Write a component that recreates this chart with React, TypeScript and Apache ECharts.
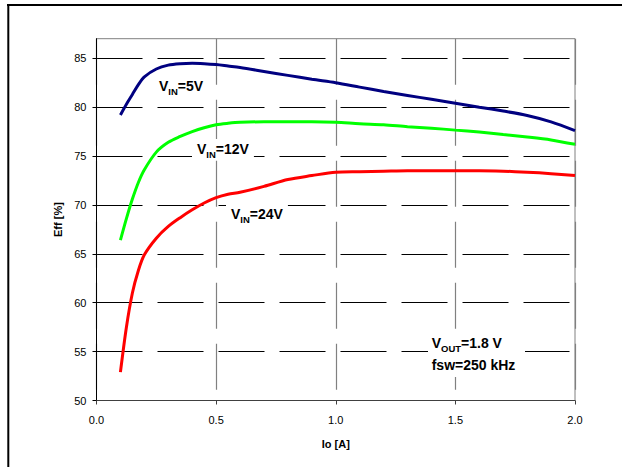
import React, { useEffect, useRef } from "react";
import * as echarts from "echarts";

const ioValues = [0.1, 0.125, 0.15, 0.175, 0.2, 0.25, 0.3, 0.35, 0.4, 0.45, 0.5, 0.55, 0.6, 0.7, 0.8, 0.9, 1.0, 1.1, 1.2, 1.3, 1.4, 1.5, 1.6, 1.7, 1.8, 1.9, 2.0];
const eff5V = [79.2, 80.3, 81.3, 82.3, 83.1, 83.9, 84.3, 84.45, 84.5, 84.45, 84.35, 84.2, 84.05, 83.65, 83.25, 82.85, 82.5, 82.05, 81.6, 81.2, 80.8, 80.4, 80.0, 79.6, 79.15, 78.5, 77.6];
const eff12V = [66.4, 68.6, 70.6, 72.3, 73.6, 75.4, 76.4, 77.0, 77.5, 77.9, 78.2, 78.35, 78.45, 78.5, 78.5, 78.5, 78.45, 78.3, 78.2, 78.0, 77.85, 77.65, 77.45, 77.2, 76.95, 76.65, 76.2];
const eff24V = [52.9, 57.5, 61.0, 63.3, 64.9, 66.6, 67.8, 68.7, 69.5, 70.2, 70.75, 71.1, 71.3, 71.9, 72.6, 73.0, 73.35, 73.4, 73.45, 73.5, 73.5, 73.5, 73.5, 73.45, 73.35, 73.2, 73.0];
const yTicks = [50, 55, 60, 65, 70, 75, 80, 85];
const xTicks = [0, 0.5, 1.0, 1.5, 2.0];
const seriesNames = ["VIN=5V", "VIN=12V", "VIN=24V"];

const FONT = "'Liberation Sans', Arial, sans-serif";

function pairs(ys: number[]) {
  return ioValues.map((x, i) => [x, ys[i]]);
}

const richStyles = {
  v: { fontSize: 14, fontWeight: "bold", fontFamily: FONT, fill: "#000", lineHeight: 16, verticalAlign: "middle" },
  s: { fontSize: 9.5, fontWeight: "bold", fontFamily: FONT, fill: "#000", lineHeight: 10, verticalAlign: "bottom", padding: [0, 0, -2, 0] },
};

function subLabel(main: string, sub: string, rest: string, x: number, y: number) {
  return {
    type: "text",
    x,
    y,
    z: 50,
    style: {
      text: `{v|${main}}{s|${sub}}{v|${rest}}`,
      textAlign: "left",
      textVerticalAlign: "middle",
      backgroundColor: "#ffffff",
      padding: [2, 5, 2, 5],
      rich: richStyles,
    },
  };
}

export default function App() {
  const ref = useRef<HTMLDivElement>(null);
  useEffect(() => {
    if (!ref.current) return;
    const chart = echarts.init(ref.current, null, { renderer: "svg" });
    const dash = [46, 15];
    const line = (name: string, ys: number[], color: string) => ({
      name,
      type: "line",
      data: pairs(ys),
      showSymbol: false,
      smooth: 0.3,
      lineStyle: { color, width: 3 },
      itemStyle: { color },
      z: 5,
    });
    chart.setOption({
      animation: false,
      backgroundColor: "#ffffff",
      grid: {
        left: 96.5,
        top: 38.7,
        right: 47,
        bottom: 66.5,
        show: true,
        borderColor: "#808080",
        borderWidth: 1,
        backgroundColor: "transparent",
      },
      xAxis: {
        type: "value",
        min: 0,
        max: 2,
        interval: 0.5,
        name: "Io [A]",
        nameLocation: "middle",
        nameGap: 38,
        nameTextStyle: { fontFamily: FONT, fontSize: 11, fontWeight: "bold", color: "#000" },
        axisLine: { show: true, lineStyle: { color: "#404040", width: 1 } },
        axisTick: { show: true, length: 4, inside: false, lineStyle: { color: "#404040" } },
        axisLabel: {
          fontFamily: FONT,
          fontSize: 11,
          color: "#000",
          margin: 14,
          formatter: (v: number) => v.toFixed(1),
          customValues: xTicks,
        },
        splitLine: { show: true, lineStyle: { color: "#808080", width: 1.2, type: dash } },
      },
      yAxis: {
        type: "value",
        min: 50,
        max: 87,
        interval: 5,
        name: "Eff [%]",
        nameLocation: "middle",
        nameGap: 33,
        nameTextStyle: { fontFamily: FONT, fontSize: 11, fontWeight: "bold", color: "#000" },
        axisLine: { show: true, lineStyle: { color: "#000", width: 1 } },
        axisTick: { show: true, length: 4, lineStyle: { color: "#000" }, customValues: yTicks },
        axisLabel: { fontFamily: FONT, fontSize: 11, color: "#000", margin: 10, customValues: yTicks },
        splitLine: { show: true, lineStyle: { color: "#000", width: 1, type: dash } },
      },
      series: [
        line(seriesNames[0], eff5V, "#000080"),
        line(seriesNames[1], eff12V, "#00ff00"),
        line(seriesNames[2], eff24V, "#ff0000"),
      ],
      graphic: [
        { type: "line", z: 60, shape: { x1: 7, y1: 5, x2: 622, y2: 5 }, style: { stroke: "#000", lineWidth: 2 } },
        { type: "line", z: 60, shape: { x1: 8.3, y1: 4, x2: 8.3, y2: 467 }, style: { stroke: "#000", lineWidth: 2 } },
        subLabel("V", "IN", "=5V", 154, 86),
        subLabel("V", "IN", "=12V", 192, 149),
        subLabel("V", "IN", "=24V", 226, 214),
        { type: "rect", z: 50, shape: { x: 428, y: 329, width: 97, height: 48 }, style: { fill: "#ffffff" } },
        {
          type: "text",
          z: 51,
          x: 431.7,
          y: 343,
          style: {
            text: "{v|V}{s|OUT}{v|=1.8 V}",
            textAlign: "left",
            textVerticalAlign: "middle",
            rich: richStyles,
          },
        },
        {
          type: "text",
          z: 51,
          x: 431.7,
          y: 365,
          style: { text: "fsw=250 kHz", textAlign: "left", textVerticalAlign: "middle", fontSize: 14, fontWeight: "bold", fontFamily: FONT, fill: "#000" },
        },
      ],
    });
    return () => chart.dispose();
  }, []);
  return <div ref={ref} style={{ position: "fixed", left: 0, top: 0, width: 622, height: 467, background: "#fff" }} />;
}
